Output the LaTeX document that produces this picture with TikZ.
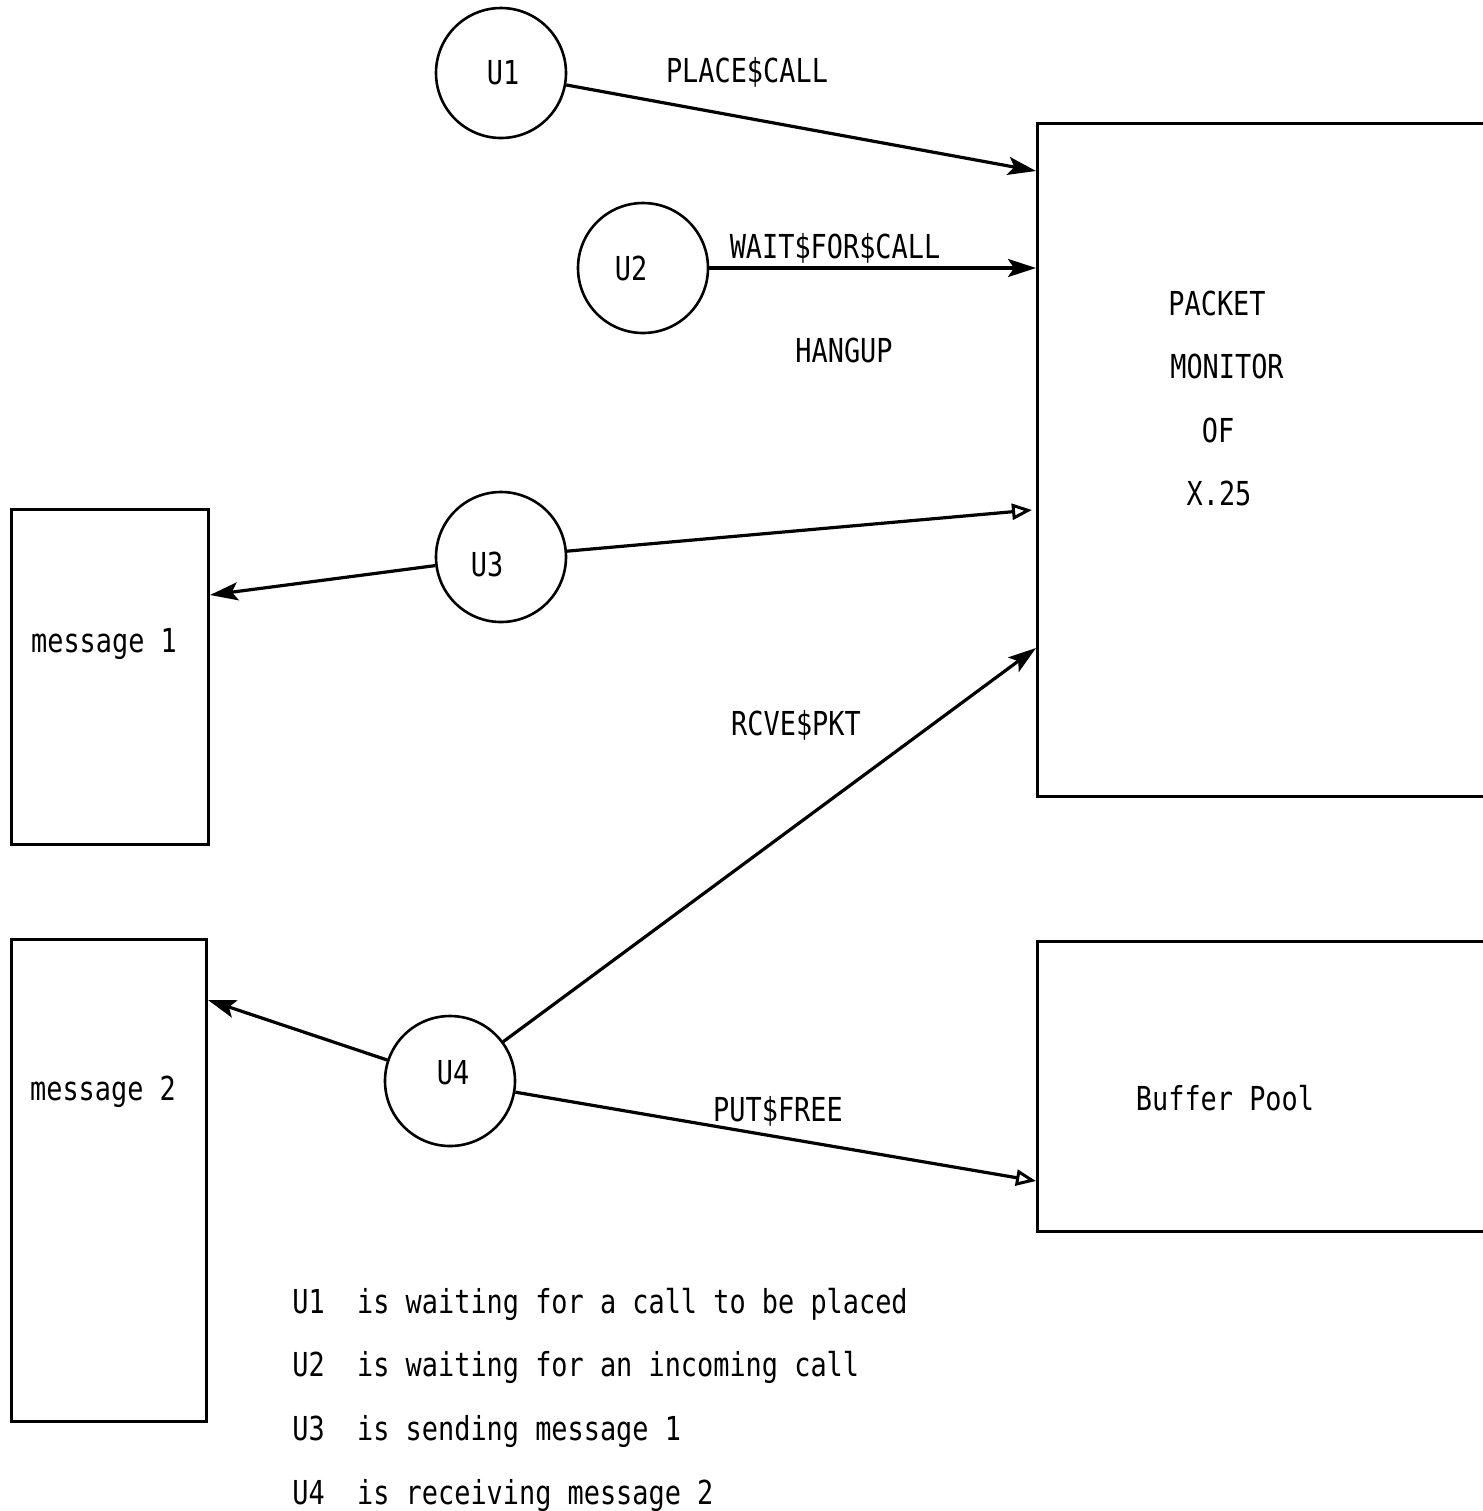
\documentclass[tikz,border=0pt]{standalone}
\usepackage{fontspec}
\setmonofont[FakeStretch=0.815]{DejaVu Sans Mono}
\usetikzlibrary{arrows.meta,calc}

\begin{document}
\begin{tikzpicture}[x=0.5pt,y=-0.5pt,
  every node/.style={font=\ttfamily\fontsize{16.5}{18}\selectfont},
  proc/.style={draw,circle,line width=1.3pt,minimum size=65pt,inner sep=0pt},
  area/.style={draw,rectangle,line width=1.5pt,anchor=north west,inner sep=0pt},
  txt/.style={anchor=base,inner sep=0pt},
  note/.style={anchor=base west,inner sep=0pt},
  flow/.style={line width=1.6pt,-{Stealth[length=14pt,width=9pt,inset=3pt]}},
  openflow/.style={line width=1.6pt,-{Triangle[open,length=10pt,width=8pt,line width=1.5pt]}}]

\useasboundingbox (0,0) rectangle (1483,1511);
\clip (0,0) rectangle (1483,1511);

% boxes
\node[area,minimum width=262pt,minimum height=336.5pt] (pm) at (1036,122) {};
\node[area,minimum width=262pt,minimum height=145pt] (bp) at (1036,940) {};
\node[area,minimum width=98.5pt,minimum height=167.5pt] (m1) at (10,508) {};
\node[area,minimum width=97.5pt,minimum height=241pt] (m2) at (10,938) {};

% box labels
\node[txt] (pmt1) at (1217,315) {PACKET};
\node[txt] (pmt2) at (1227,378) {MONITOR};
\node[txt] (pmt3) at (1218,442) {OF};
\node[txt] (pmt4) at (1219,505) {X.25};
\node[txt] (bpt) at (1225,1110) {Buffer Pool};
\node[txt] (m1t) at (104,652) {message 1};
\node[txt] (m2t) at (103,1100) {message 2};

% user processes
\node[proc] (u1) at (501,73) {};
\node[proc] (u2) at (643,268) {};
\node[proc] (u3) at (501,557) {};
\node[proc] (u4) at (450,1081) {};
\node[txt] (u1t) at (503,84) {U1};
\node[txt] (u2t) at (631,280) {U2};
\node[txt] (u3t) at (487,576) {U3};
\node[txt] (u4t) at (453,1084) {U4};

% entry points on the boxes
\coordinate (pm1) at ($(pm.north west)+(0,49)$);
\coordinate (pm2) at ($(pm.north west)+(0,146)$);
\coordinate (pm3) at ($(pm.north west)+(-4,388)$);
\coordinate (pm4) at ($(pm.north west)+(0,526)$);
\coordinate (bp1) at ($(bp.north west)+(0,241)$);
\coordinate (m1a) at ($(m1.north east)+(0,87)$);
\coordinate (m2a) at ($(m2.north east)+(0,62)$);

% calls
\draw[flow] (u1) -- (pm1);
\draw[flow] (u2) -- (pm2);
\draw[openflow] (u3) -- (pm3);
\draw[flow] (u3) -- (m1a);
\draw[flow] (u4) -- (pm4);
\draw[flow] (u4) -- (m2a);
\draw[openflow] (u4) -- (bp1);

% call names
\node[txt] (l1) at (747,82) {PLACE\$CALL};
\node[txt] (l2) at (835,258) {WAIT\$FOR\$CALL};
\node[txt] (l3) at (844,362) {HANGUP};
\node[txt] (l4) at (796,735) {RCVE\$PKT};
\node[txt] (l5) at (778,1121) {PUT\$FREE};

% legend
\node[note] (n1) at (292,1313) {U1~~is waiting for a call to be placed};
\node[note] (n2) at (292,1376) {U2~~is waiting for an incoming call};
\node[note] (n3) at (292,1440) {U3~~is sending message 1};
\node[note] (n4) at (292,1504) {U4~~is receiving message 2};
\end{tikzpicture}
\end{document}
